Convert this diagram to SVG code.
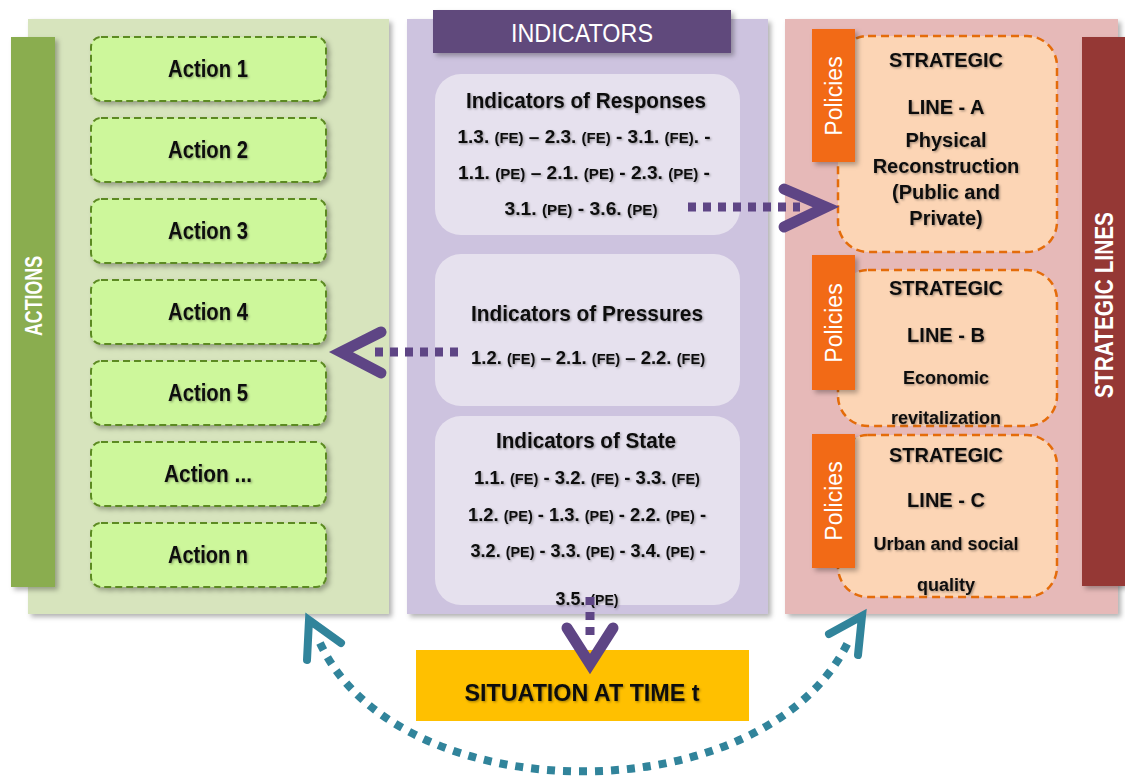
<svg xmlns="http://www.w3.org/2000/svg" width="1125" height="778" viewBox="0 0 1125 778">
<defs>
<filter id="sh" x="-10%" y="-10%" width="130%" height="130%"><feDropShadow dx="3" dy="3" stdDeviation="2.5" flood-color="#000" flood-opacity="0.3"/></filter>
<filter id="tsh" x="-10%" y="-30%" width="130%" height="170%"><feDropShadow dx="1.2" dy="1.2" stdDeviation="1" flood-color="#000" flood-opacity="0.35"/></filter>
</defs>
<style>
.t{font-family:"Liberation Sans",Arial,sans-serif;font-weight:bold;fill:#111;text-anchor:middle;filter:url(#tsh)}
.w{font-family:"Liberation Sans",Arial,sans-serif;fill:#fff;text-anchor:middle}
.s{font-size:15px}
.act{fill:#cdf79b;stroke:#5c8a22;stroke-width:2;stroke-dasharray:7 4;filter:url(#sh)}
.ind{fill:#e6e1ee}
.sl{fill:#fcd5b5;stroke:#e46c0a;stroke-width:2.5;stroke-dasharray:8 5}
.tab{fill:#f26b12;filter:url(#sh)}
.pd{fill:none;stroke:#5e4585;stroke-width:9;stroke-dasharray:8 7}
.pc{fill:none;stroke:#5e4585;stroke-width:11;stroke-linejoin:miter;stroke-linecap:round}
.td{fill:none;stroke:#31849b;stroke-width:8;stroke-dasharray:8 8}
.tc{fill:none;stroke:#31849b;stroke-width:8;stroke-linejoin:miter;stroke-linecap:round}
</style>

<g id="actions-panel">
<rect x="28" y="19" width="361" height="595" fill="#d7e4bd" filter="url(#sh)"/>
<rect x="11" y="37" width="44" height="550" fill="#8aad50" filter="url(#sh)"/>
<text class="w" font-size="24" font-weight="bold" transform="translate(42,296) rotate(-90)" textLength="80" lengthAdjust="spacingAndGlyphs">ACTIONS</text>
</g>
<g id="action-1"><rect class="act" x="91" y="37" width="235" height="64" rx="10"/><text class="t" x="208" y="77" font-size="23" textLength="80" lengthAdjust="spacingAndGlyphs">Action 1</text></g>
<g id="action-2"><rect class="act" x="91" y="118" width="235" height="64" rx="10"/><text class="t" x="208" y="158" font-size="23" textLength="80" lengthAdjust="spacingAndGlyphs">Action 2</text></g>
<g id="action-3"><rect class="act" x="91" y="199" width="235" height="64" rx="10"/><text class="t" x="208" y="239" font-size="23" textLength="80" lengthAdjust="spacingAndGlyphs">Action 3</text></g>
<g id="action-4"><rect class="act" x="91" y="280" width="235" height="64" rx="10"/><text class="t" x="208" y="320" font-size="23" textLength="80" lengthAdjust="spacingAndGlyphs">Action 4</text></g>
<g id="action-5"><rect class="act" x="91" y="361" width="235" height="64" rx="10"/><text class="t" x="208" y="401" font-size="23" textLength="80" lengthAdjust="spacingAndGlyphs">Action 5</text></g>
<g id="action-etc"><rect class="act" x="91" y="442" width="235" height="64" rx="10"/><text class="t" x="208" y="482" font-size="23" textLength="88" lengthAdjust="spacingAndGlyphs">Action ...</text></g>
<g id="action-n"><rect class="act" x="91" y="523" width="235" height="64" rx="10"/><text class="t" x="208" y="563" font-size="23" textLength="80" lengthAdjust="spacingAndGlyphs">Action n</text></g>

<g id="indicators-panel">
<rect x="407" y="19" width="361" height="595" fill="#cdc3df" filter="url(#sh)"/>
<rect x="433" y="10" width="298" height="43" fill="#604a7b" filter="url(#sh)"/>
<text class="w" x="582" y="42" font-size="25" textLength="142" lengthAdjust="spacingAndGlyphs">INDICATORS</text>
</g>
<g id="ind-responses">
<rect class="ind" x="435" y="74" width="305" height="161" rx="26"/>
<text class="t" x="586" y="108" font-size="22" textLength="240" lengthAdjust="spacingAndGlyphs">Indicators of Responses</text>
<text class="t" x="584" y="143" font-size="19" textLength="253" lengthAdjust="spacingAndGlyphs">1.3. <tspan class="s">(FE)</tspan> – 2.3. <tspan class="s">(FE)</tspan> - 3.1. <tspan class="s">(FE)</tspan>. -</text>
<text class="t" x="584" y="179" font-size="19" textLength="252" lengthAdjust="spacingAndGlyphs">1.1. <tspan class="s">(PE)</tspan> – 2.1. <tspan class="s">(PE)</tspan> - 2.3. <tspan class="s">(PE)</tspan> -</text>
<text class="t" x="581" y="215" font-size="19" textLength="153" lengthAdjust="spacingAndGlyphs">3.1. <tspan class="s">(PE)</tspan> - 3.6. <tspan class="s">(PE)</tspan></text>
</g>
<g id="ind-pressures">
<rect class="ind" x="435" y="254" width="305" height="152" rx="26"/>
<text class="t" x="587" y="321" font-size="22" textLength="232" lengthAdjust="spacingAndGlyphs">Indicators of Pressures</text>
<text class="t" x="588" y="364" font-size="19" textLength="234" lengthAdjust="spacingAndGlyphs">1.2. <tspan class="s">(FE)</tspan> – 2.1. <tspan class="s">(FE)</tspan> – 2.2. <tspan class="s">(FE)</tspan></text>
</g>
<g id="ind-state">
<rect class="ind" x="435" y="416" width="305" height="189" rx="26"/>
<text class="t" x="586" y="448" font-size="22" textLength="180" lengthAdjust="spacingAndGlyphs">Indicators of State</text>
<text class="t" x="587" y="484" font-size="19" textLength="226" lengthAdjust="spacingAndGlyphs">1.1. <tspan class="s">(FE)</tspan> - 3.2. <tspan class="s">(FE)</tspan> - 3.3. <tspan class="s">(FE)</tspan></text>
<text class="t" x="587" y="521" font-size="19" textLength="238" lengthAdjust="spacingAndGlyphs">1.2. <tspan class="s">(PE)</tspan> - 1.3. <tspan class="s">(PE)</tspan> - 2.2. <tspan class="s">(PE)</tspan> -</text>
<text class="t" x="588" y="557" font-size="19" textLength="235" lengthAdjust="spacingAndGlyphs">3.2. <tspan class="s">(PE)</tspan> - 3.3. <tspan class="s">(PE)</tspan> - 3.4. <tspan class="s">(PE)</tspan> -</text>
<text class="t" x="587" y="605" font-size="19" textLength="63" lengthAdjust="spacingAndGlyphs">3.5. <tspan class="s">(PE)</tspan></text>
</g>

<g id="strategic-panel">
<rect x="785" y="19" width="333" height="595" fill="#e6b9b8" filter="url(#sh)"/>
<rect x="1082" y="37" width="43" height="549" fill="#953735" filter="url(#sh)"/>
<text class="w" font-size="26" font-weight="bold" transform="translate(1113,305) rotate(-90)" textLength="186" lengthAdjust="spacingAndGlyphs">STRATEGIC LINES</text>
</g>
<g id="line-a">
<rect class="sl" x="838" y="36" width="219" height="216" rx="30"/>
<rect class="tab" x="812" y="29" width="43" height="133"/>
<text class="w" font-size="23" transform="translate(842,96) rotate(-90)">Policies</text>
<text class="t" x="946" y="67" font-size="20">STRATEGIC</text>
<text class="t" x="946" y="114" font-size="20">LINE - A</text>
<text class="t" x="946" y="147" font-size="20">Physical</text>
<text class="t" x="946" y="173" font-size="20">Reconstruction</text>
<text class="t" x="946" y="199" font-size="20">(Public and</text>
<text class="t" x="946" y="225" font-size="20">Private)</text>
</g>
<g id="line-b">
<rect class="sl" x="838" y="270" width="219" height="156" rx="30"/>
<rect class="tab" x="812" y="255" width="43" height="135"/>
<text class="w" font-size="23" transform="translate(842,323) rotate(-90)">Policies</text>
<text class="t" x="946" y="295" font-size="20">STRATEGIC</text>
<text class="t" x="946" y="342" font-size="20">LINE - B</text>
<text class="t" x="946" y="384" font-size="18">Economic</text>
<text class="t" x="946" y="424" font-size="18">revitalization</text>
</g>
<g id="line-c">
<rect class="sl" x="838" y="435" width="219" height="162" rx="30"/>
<rect class="tab" x="812" y="434" width="43" height="134"/>
<text class="w" font-size="23" transform="translate(842,501) rotate(-90)">Policies</text>
<text class="t" x="946" y="462" font-size="20">STRATEGIC</text>
<text class="t" x="946" y="507" font-size="20">LINE - C</text>
<text class="t" x="946" y="550" font-size="18">Urban and social</text>
<text class="t" x="946" y="591" font-size="18">quality</text>
</g>

<g id="situation">
<rect x="416" y="650" width="333" height="71" fill="#ffc000"/>
<text class="t" x="582" y="701" font-size="24" textLength="235" lengthAdjust="spacingAndGlyphs">SITUATION AT TIME t</text>
</g>

<g id="connectors">
<line class="pd" x1="688" y1="207" x2="800" y2="207"/>
<polyline class="pc" points="784,189 826,207 784,227"/>
<line class="pd" x1="458" y1="352" x2="368" y2="352"/>
<polyline class="pc" points="381,332 341,352 381,373"/>
<line class="pd" x1="590" y1="597" x2="590" y2="640"/>
<polyline class="pc" points="567,628 590,664 613,628"/>
<path class="td" d="M320,643 C400,815 770,815 850,638"/>
<polyline class="tc" points="307,660 309,620 341,643"/>
<polyline class="tc" points="829,634 862,616 858,655"/>
</g>
</svg>
